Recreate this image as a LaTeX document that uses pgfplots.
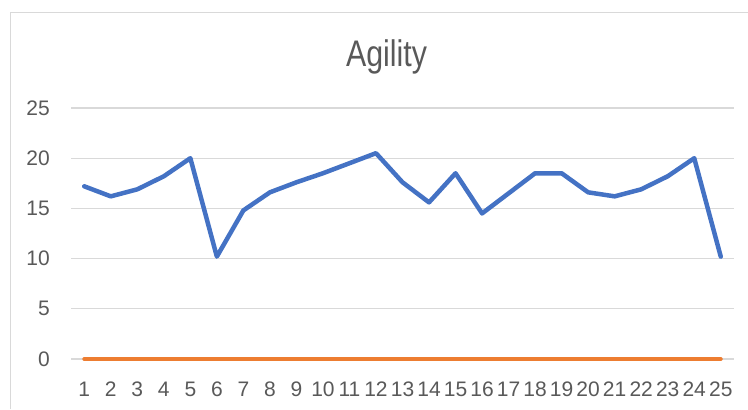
\documentclass[border=0pt]{standalone}
\usepackage{fontspec}
\setmainfont{Liberation Sans}
\newfontfamily\titlefont[FakeStretch=0.82]{Liberation Sans}
\usepackage{pgfplots}
\pgfplotsset{compat=1.18}
\definecolor{xlblue}{HTML}{4472C4}
\definecolor{xlorange}{HTML}{ED7D31}
\definecolor{txtgray}{HTML}{595959}
\definecolor{gridgray}{HTML}{D9D9D9}
\begin{document}
\begin{tikzpicture}[x=1bp,y=1bp]
\useasboundingbox (0,0) rectangle (748,409);
% chart frame (cut off at right and bottom)
\draw[color=gridgray, line width=1.5bp] (10.5,0) -- (10.5,396.5) -- (748,396.5);
\node[anchor=base, inner sep=0pt, text=txtgray,
      font=\titlefont\fontsize{37bp}{40bp}\selectfont] at (386.5,342.3) {Agility};
\begin{axis}[
    at={(71bp,50bp)}, anchor=south west,
    scale only axis,
    width=663bp, height=251bp,
    xmin=0.5, xmax=25.5,
    ymin=0, ymax=25,
    xtick={1,...,25},
    ytick={0,5,...,25},
    axis line style={draw=none},
    major tick length=0pt,
    ymajorgrids,
    grid style={color=gridgray, line width=1.3bp},
    clip=false,
    /pgf/number format/assume math mode=true,
    tick label style={font=\fontsize{21bp}{24bp}\selectfont, text=txtgray, inner sep=0pt},
    xticklabel style={anchor=north, yshift=-23bp},
    yticklabel style={anchor=east, xshift=-21bp},
]
\addplot[color=xlblue, line width=4.5bp, line join=round, line cap=round] coordinates {
    (1,17.2) (2,16.2) (3,16.9) (4,18.2) (5,20.0)
    (6,10.2) (7,14.8) (8,16.6) (9,17.6) (10,18.5)
    (11,19.5) (12,20.5) (13,17.6) (14,15.6) (15,18.5)
    (16,14.5) (17,16.5) (18,18.5) (19,18.5) (20,16.6)
    (21,16.2) (22,16.9) (23,18.2) (24,20.0) (25,10.2)
};
\addplot[color=xlorange, line width=4bp, line cap=round] coordinates {
    (1,0) (2,0) (3,0) (4,0) (5,0)
    (6,0) (7,0) (8,0) (9,0) (10,0)
    (11,0) (12,0) (13,0) (14,0) (15,0)
    (16,0) (17,0) (18,0) (19,0) (20,0)
    (21,0) (22,0) (23,0) (24,0) (25,0)
};
\end{axis}
\end{tikzpicture}
\end{document}
